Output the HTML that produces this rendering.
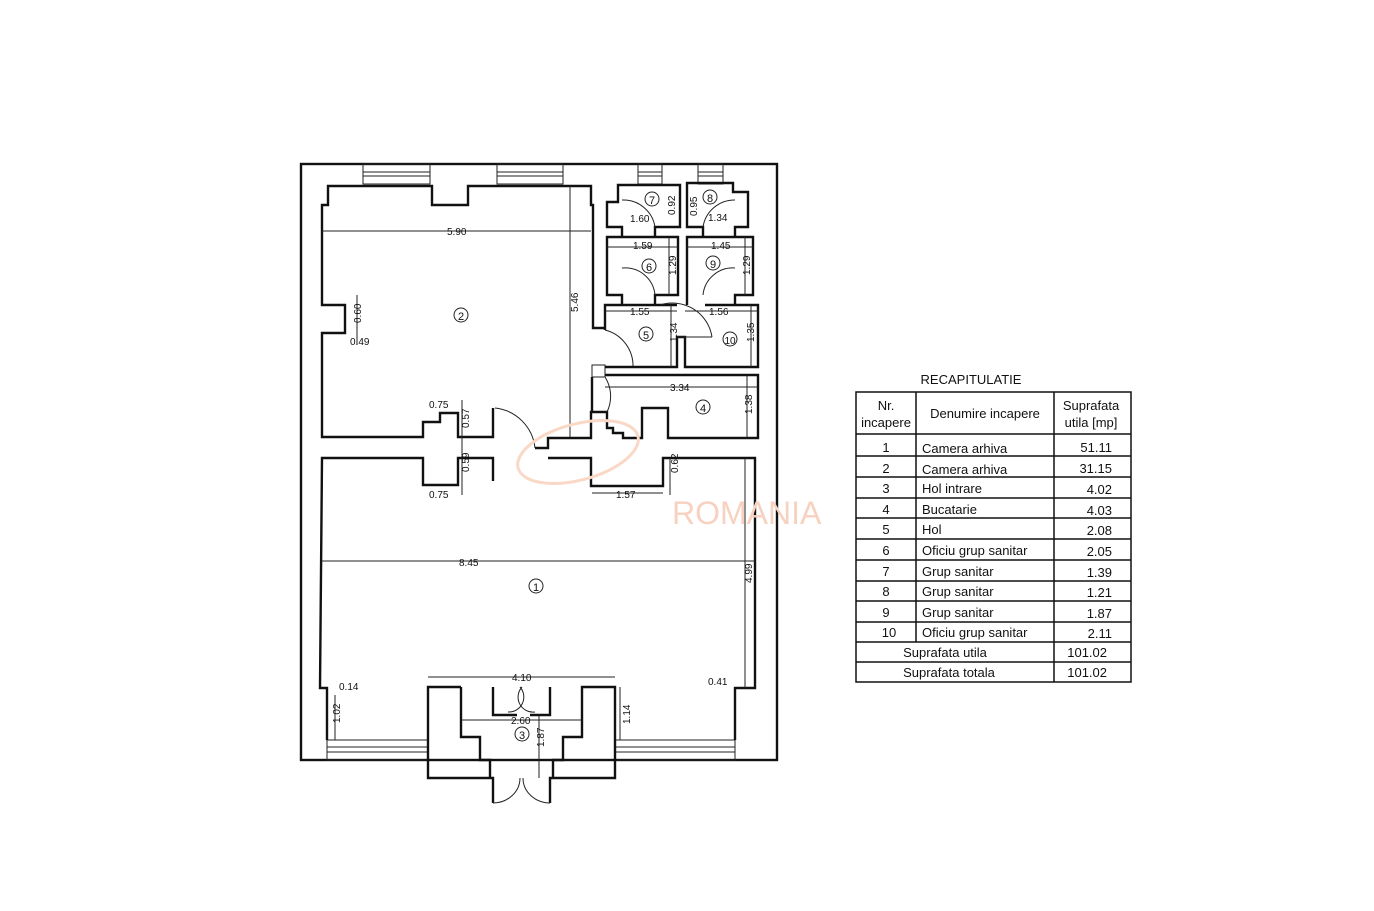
<!DOCTYPE html>
<html><head><meta charset="utf-8"><style>
html,body{margin:0;padding:0;background:#fff;}
svg{display:block;font-family:"Liberation Sans",Arial,sans-serif;}
.w{fill:none;stroke:#111;stroke-width:2.4;}
.t{fill:none;stroke:#222;stroke-width:1;}
.d{font-size:10px;fill:#111;}
.n{font-size:13px;fill:#111;}
</style></head><body>
<svg width="1374" height="911" viewBox="0 0 1374 911" xmlns="http://www.w3.org/2000/svg">
<rect width="1374" height="911" fill="#fff"/>
<rect x="301" y="164" width="476" height="596" class="w" stroke-width="2"/>
<g stroke="#222" stroke-width="1" fill="none">
<rect x="363" y="164" width="67" height="20"/><line x1="363" y1="172" x2="430" y2="172"/><line x1="363" y1="176" x2="430" y2="176"/>
<rect x="497" y="164" width="66" height="20"/><line x1="497" y1="172" x2="563" y2="172"/><line x1="497" y1="176" x2="563" y2="176"/>
<rect x="638" y="164" width="24" height="20"/><line x1="638" y1="172" x2="662" y2="172"/><line x1="638" y1="176" x2="662" y2="176"/>
<rect x="698" y="164" width="25" height="20"/><line x1="698" y1="172" x2="723" y2="172"/><line x1="698" y1="176" x2="723" y2="176"/>
<rect x="327" y="740" width="101" height="20"/><line x1="327" y1="747" x2="428" y2="747"/><line x1="327" y1="752" x2="428" y2="752"/>
<rect x="615" y="740" width="120" height="20"/><line x1="615" y1="747" x2="735" y2="747"/><line x1="615" y1="752" x2="735" y2="752"/>
</g>
<polyline class="w" points="493,408 493,437 458,437 458,413 440,413 440,422 423,422 423,437 322,437 322,333 345,333 345,305 322,305 322,205 328,205 328,186 432,186 432,205 468,205 468,186 591,186 591,205 593,205 593,328 605,328"/>
<path class="t" d="M495,408 A45,45 0 0 1 535,448" /><polyline class="w" points="535,448 548,448 548,438 591,438 591,412 607,412 607,428 613,428 613,433 623,433 623,438 642,438 642,408 668,408 668,438 758,438 758,375 605,375"/>
<polyline class="w" points="592,412 592,377"/>
<rect x="592" y="365" width="13" height="12" class="t"/>
<path class="t" d="M605,377 A36,36 0 0 1 607,412"/>
<path class="t" d="M605,330 A37,37 0 0 1 633,367"/>
<polyline class="w" points="605,330 605,305 677,305"/>
<polyline class="w" points="605,367 677,367 677,337 685,337 685,367 758,367 758,305 705,305"/>
<path class="t" d="M660,305 A40,40 0 0 1 712,337"/>
<line class="t" x1="677" y1="337" x2="712" y2="337"/>
<polyline class="w" points="622,305 622,295 607,295 607,237 678,237 678,295 655,295 655,305"/>
<path class="t" d="M622,268 A30,30 0 0 1 655,295"/>
<polyline class="w" points="687,305 687,237 753,237 753,295 735,295 735,305"/>
<path class="t" d="M735,268 A30,30 0 0 0 703,295"/>
<polyline class="w" points="622,237 622,227 607,227 607,202 618,202 618,185 680,185 680,227 655,227 655,237"/>
<path class="t" d="M622,200 A32,32 0 0 1 655,227"/>
<polyline class="w" points="703,237 703,227 687,227 687,183 733,183 733,192 748,192 748,227 735,227 735,237"/>
<path class="t" d="M735,200 A32,32 0 0 0 703,227"/>
<polyline class="w" points="493,481 493,458 458,458 458,485 423,485 423,458 322,458 320,688 327,688 327,740"/>
<polyline class="w" points="548,458 591,458 591,486 663,486 663,458 755,458 755,688 735,688 735,740"/>
<polyline class="w" points="428,740 428,778 493,778 493,803"/>
<polyline class="w" points="428,740 428,687 461,687"/>
<polyline class="w" points="461,687 461,737 480,737 480,760 490,760 490,778"/>
<polyline class="w" points="493,687 493,715 517,715"/>
<polyline class="w" points="550,803 550,778 615,778 615,687 582,687 582,737 563,737 563,760 553,760 553,778"/>
<polyline class="w" points="550,687 550,715 530,715"/>
<line class="t" x1="461" y1="720" x2="582" y2="720"/>
<path class="t" d="M493,803 A27,25 0 0 0 520,778"/><path class="t" d="M550,803 A27,25 0 0 1 523,778"/>
<path class="t" d="M508,712 A15,15 0 0 0 520,687"/><path class="t" d="M535,712 A15,15 0 0 1 522,687"/>
<g stroke="#222" stroke-width="1">
<line x1="322" y1="231" x2="591" y2="231"/>
<line x1="570" y1="186" x2="570" y2="437"/>
<line x1="322" y1="561" x2="755" y2="561"/>
<line x1="745" y1="458" x2="745" y2="688"/>
<line x1="428" y1="677" x2="615" y2="677"/>
<line x1="607" y1="247" x2="678" y2="247"/><line x1="687" y1="247" x2="753" y2="247"/>
<line x1="605" y1="311" x2="677" y2="311"/><line x1="685" y1="311" x2="758" y2="311"/>
<line x1="605" y1="387" x2="758" y2="387"/>
<line x1="669" y1="237" x2="669" y2="295"/><line x1="745" y1="237" x2="745" y2="295"/>
<line x1="671" y1="305" x2="671" y2="367"/><line x1="751" y1="305" x2="751" y2="367"/>
<line x1="747" y1="375" x2="747" y2="438"/>
<line x1="592" y1="493" x2="663" y2="493"/><line x1="670" y1="458" x2="670" y2="495"/>
<line x1="335" y1="695" x2="335" y2="740"/><line x1="620" y1="687" x2="620" y2="740"/>
<line x1="539" y1="715" x2="539" y2="778"/>
<line x1="357" y1="295" x2="357" y2="345"/>
<line x1="462" y1="400" x2="462" y2="495"/>
</g>
<g class="d">
<text x="447" y="235">5.90</text>
<text x="459" y="566" >8.45</text>
<text x="512" y="681">4.10</text>
<text x="630" y="222">1.60</text><text x="708" y="221">1.34</text>
<text x="633" y="249">1.59</text><text x="711" y="249">1.45</text>
<text x="630" y="315">1.55</text><text x="709" y="315">1.56</text>
<text x="670" y="391">3.34</text>
<text x="616" y="498">1.57</text>
<text x="429" y="408">0.75</text><text x="429" y="498">0.75</text>
<text x="350" y="345">0.49</text>
<text x="339" y="690">0.14</text><text x="708" y="685">0.41</text>
<text x="511" y="724">2.60</text>
<text transform="translate(578,312) rotate(-90)" x="0" y="0">5.46</text>
<text transform="translate(361,323) rotate(-90)">0.60</text>
<text transform="translate(469,428) rotate(-90)">0.57</text>
<text transform="translate(469,472) rotate(-90)">0.59</text>
<text transform="translate(678,473) rotate(-90)">0.62</text>
<text transform="translate(752,583) rotate(-90)">4.99</text>
<text transform="translate(675,215) rotate(-90)">0.92</text>
<text transform="translate(697,216) rotate(-90)">0.95</text>
<text transform="translate(676,275) rotate(-90)">1.29</text>
<text transform="translate(750,275) rotate(-90)">1.29</text>
<text transform="translate(677,342) rotate(-90)">1.34</text>
<text transform="translate(754,342) rotate(-90)">1.35</text>
<text transform="translate(752,414) rotate(-90)">1.38</text>
<text transform="translate(340,723) rotate(-90)">1.02</text>
<text transform="translate(630,724) rotate(-90)">1.14</text>
<text transform="translate(544,747) rotate(-90)">1.87</text>
</g>
<g class="n" text-anchor="middle">
<circle cx="461" cy="315" r="7" class="t"/><text x="461" y="320" font-size="11">2</text>
<circle cx="536" cy="586" r="7" class="t"/><text x="536" y="591" font-size="11">1</text>
<circle cx="522" cy="734" r="7" class="t"/><text x="522" y="739" font-size="11">3</text>
<circle cx="703" cy="407" r="7" class="t"/><text x="703" y="412" font-size="11">4</text>
<circle cx="646" cy="334" r="7" class="t"/><text x="646" y="339" font-size="11">5</text>
<circle cx="649" cy="266" r="7" class="t"/><text x="649" y="271" font-size="11">6</text>
<circle cx="652" cy="199" r="7" class="t"/><text x="652" y="204" font-size="11">7</text>
<circle cx="710" cy="197" r="7" class="t"/><text x="710" y="202" font-size="11">8</text>
<circle cx="713" cy="263" r="7" class="t"/><text x="713" y="268" font-size="11">9</text>
<circle cx="730" cy="339" r="7" class="t"/><text x="730" y="344" font-size="10">10</text>
</g>
<ellipse cx="578" cy="452" rx="62" ry="28" fill="none" stroke="#f9d8c6" stroke-width="3" transform="rotate(-15 578 452)"/>
<text x="672" y="524" font-size="32" fill="#f8d2c0">ROMANIA</text>
<text x="971" y="384" text-anchor="middle" font-size="13" fill="#111">RECAPITULATIE</text>
<g stroke="#111" stroke-width="1.5" fill="none">
<rect x="856" y="392" width="275" height="290"/>
<line x1="916" y1="392" x2="916" y2="642"/><line x1="1054" y1="392" x2="1054" y2="682"/>
<line x1="856" y1="434" x2="1131" y2="434"/>
<line x1="856" y1="456" x2="1131" y2="456"/><line x1="856" y1="477" x2="1131" y2="477"/>
<line x1="856" y1="498" x2="1131" y2="498"/><line x1="856" y1="518" x2="1131" y2="518"/>
<line x1="856" y1="539" x2="1131" y2="539"/><line x1="856" y1="560" x2="1131" y2="560"/>
<line x1="856" y1="581" x2="1131" y2="581"/><line x1="856" y1="601" x2="1131" y2="601"/>
<line x1="856" y1="622" x2="1131" y2="622"/><line x1="856" y1="642" x2="1131" y2="642"/>
<line x1="856" y1="662" x2="1131" y2="662"/>
</g>
<g font-size="13" fill="#111">
<text x="886" y="410" text-anchor="middle">Nr.</text><text x="886" y="427" text-anchor="middle">incapere</text>
<text x="985" y="418" text-anchor="middle">Denumire incapere</text>
<text x="1091" y="410" text-anchor="middle">Suprafata</text><text x="1091" y="427" text-anchor="middle">utila [mp]</text>
<g text-anchor="middle">
<text x="886" y="452">1</text><text x="886" y="473">2</text><text x="886" y="493">3</text><text x="886" y="514">4</text><text x="886" y="534">5</text><text x="886" y="555">6</text><text x="886" y="576">7</text><text x="886" y="596">8</text><text x="886" y="617">9</text><text x="889" y="637">10</text>
</g>
<text x="922" y="453">Camera arhiva</text><text x="922" y="474">Camera arhiva</text><text x="922" y="493">Hol intrare</text><text x="922" y="514">Bucatarie</text><text x="922" y="534">Hol</text><text x="922" y="555">Oficiu grup sanitar</text><text x="922" y="576">Grup sanitar</text><text x="922" y="596">Grup sanitar</text><text x="922" y="617">Grup sanitar</text><text x="922" y="637">Oficiu grup sanitar</text>
<g text-anchor="end">
<text x="1112" y="452">51.11</text><text x="1112" y="473">31.15</text><text x="1112" y="494">4.02</text><text x="1112" y="515">4.03</text><text x="1112" y="535">2.08</text><text x="1112" y="556">2.05</text><text x="1112" y="577">1.39</text><text x="1112" y="597">1.21</text><text x="1112" y="618">1.87</text><text x="1112" y="638">2.11</text>
<text x="1107" y="657">101.02</text><text x="1107" y="677">101.02</text>
</g>
<text x="945" y="657" text-anchor="middle">Suprafata utila</text>
<text x="949" y="677" text-anchor="middle">Suprafata totala</text>
</g>
</svg>
</body></html>
